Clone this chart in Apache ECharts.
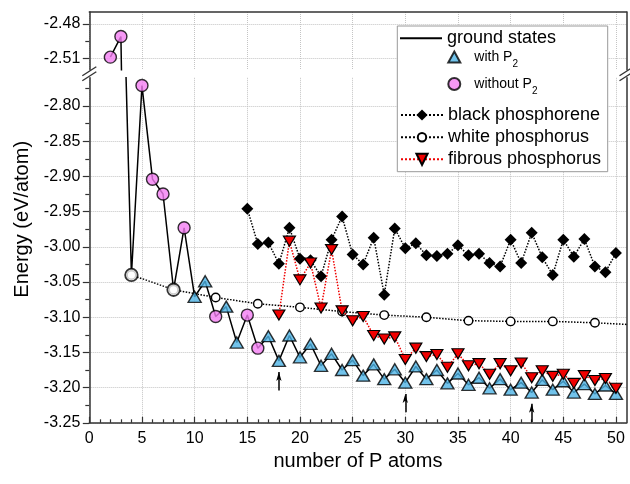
<!DOCTYPE html>
<html>
<head>
<meta charset="utf-8">
<script src="https://cdn.jsdelivr.net/npm/echarts@6/dist/echarts.min.js"></script>
<style>html,body{margin:0;padding:0;background:#fff}#c{width:630px;height:484px}</style>
</head>
<body>
<div id="c"></div>
<script>
// ---------------- data ----------------
const groundN = [2,3,4,5,6,7,8,9,10,11,12,13,14,15,16,17,18,19,20,21,22,23,24,25,26,27,28,29,30,31,32,33,34,35,36,37,38,39,40,41,42,43,44,45,46,47,48,49,50];
const groundE = [-2.509,-2.491,-3.040,-2.771,-2.904,-2.925,-3.061,-2.973,-3.071,-3.049,
  -3.099,-3.085,-3.136,-3.097,-3.144,-3.127,-3.162,-3.126,-3.157,-3.138,
  -3.169,-3.152,-3.175,-3.161,-3.183,-3.167,-3.188,-3.174,-3.193,-3.170,
  -3.188,-3.175,-3.194,-3.180,-3.196,-3.186,-3.201,-3.188,-3.203,-3.193,
  -3.207,-3.189,-3.203,-3.191,-3.207,-3.195,-3.209,-3.197,-3.209];
// T = with P2, C = without P2, W = P4 (white) cluster
const groundType = ['C','C','W','C','C','C','W','C','T','T','C','T','T','C','C',
  'T','T','T','T','T','T','T','T','T','T','T','T','T','T','T','T','T','T','T','T','T','T','T','T','T','T','T','T','T','T','T','T','T','T'];
const blackN = [15,16,17,18,19,20,21,22,23,24,25,26,27,28,29,30,31,32,33,34,35,36,37,38,39,40,41,42,43,44,45,46,47,48,49,50];
const blackE = [-2.946,-2.996,-2.994,-3.024,-2.973,-3.017,-3.019,-3.042,-2.990,-2.957,
  -3.011,-3.025,-2.987,-3.068,-2.974,-3.002,-2.995,-3.012,-3.013,-3.010,
  -2.998,-3.012,-3.010,-3.023,-3.028,-2.990,-3.023,-2.980,-3.015,-3.040,
  -2.990,-3.014,-2.989,-3.028,-3.036,-3.009];
const whiteN = [4,8,12,16,20,24,28,32,36,40,44,48,52];
const whiteE = [-3.040,-3.061,-3.072,-3.081,-3.086,-3.092,-3.097,-3.100,-3.105,-3.106,-3.106,-3.108,-3.111];
const fibN = [18,19,20,21,22,23,24,25,26,27,28,29,30,31,32,33,34,35,36,37,38,39,40,41,42,43,44,45,46,47,48,49,50];
const fibE = [-3.097,-2.992,-3.047,-3.023,-3.087,-3.004,-3.091,-3.105,-3.099,-3.126,
  -3.131,-3.128,-3.160,-3.144,-3.156,-3.153,-3.171,-3.152,-3.169,-3.166,
  -3.181,-3.166,-3.176,-3.165,-3.186,-3.176,-3.184,-3.181,-3.194,-3.183,
  -3.190,-3.187,-3.201];
const arrowAt = [18,30,42];
const xTicks = [0,5,10,15,20,25,30,35,40,45,50];
const yTicksTop = [-2.51,-2.48];
const yTicksBottom = [-3.25,-3.20,-3.15,-3.10,-3.05,-3.00,-2.95,-2.90,-2.85,-2.80];

// ---------------- layout / style ----------------
const FONT = '"Liberation Sans", Arial, Helvetica, sans-serif';
const AX = '#333';
const GRIDC = '#c4c4c4';
const X_MAX = 51;
const TOP_MIN = -2.52, TOP_MAX = -2.4695;
const BOT_MIN = -3.25, BOT_MAX = -2.76;
const G_LEFT = 89.3, G_RIGHT = 3.5;
const TOP_T = 12, TOP_H = 57.7;
const BOT_T = 77.8, BOT_H = 345;

const pairs = (ns, es) => ns.map((n, i) => [n, es[i]]);
const groundPts = pairs(groundN, groundE);
const ofType = t => groundPts.filter((p, i) => groundType[i] === t);
const xMinor = [];
for (let v = 0; v < X_MAX; v++) if (v % 5 !== 0) xMinor.push(v);
const halfway = (ticks, max) => ticks.map((t, i) => +(t + (ticks[1] - ticks[0]) / 2).toFixed(4)).filter(v => v < max);
const yMinorTop = halfway(yTicksTop, TOP_MAX);
const yMinorBottom = halfway(yTicksBottom, BOT_MAX);

const axLine = {show: true, onZero: false, lineStyle: {color: AX, width: 1.5}};
const split = {show: true, lineStyle: {color: GRIDC, type: 'dotted', width: 1}};
const lblY = {fontSize: 16, color: '#000', fontFamily: FONT, margin: 9};

const xAxis = [
  {gridIndex: 0, type: 'value', min: 0, max: X_MAX, position: 'top', axisLine: axLine,
   axisTick: {show: false, customValues: xTicks}, axisLabel: {show: false}, splitLine: split},
  {gridIndex: 1, type: 'value', min: 0, max: X_MAX, position: 'bottom', axisLine: axLine,
   axisTick: {inside: true, length: 6, customValues: xTicks, lineStyle: {color: AX, width: 1.2}},
   axisLabel: {customValues: xTicks, fontSize: 16, color: '#000', fontFamily: FONT, margin: 8},
   splitLine: split,
   name: 'number of P atoms', nameLocation: 'middle', nameGap: 29,
   nameTextStyle: {fontSize: 20, color: '#000', fontFamily: FONT}},
  {gridIndex: 1, type: 'value', min: 0, max: X_MAX, position: 'bottom', axisLine: {show: false, onZero: false},
   axisTick: {inside: true, length: 3.5, customValues: xMinor, lineStyle: {color: AX, width: 1.2}},
   axisLabel: {show: false}, splitLine: {show: false}}
];
const yAxis = [
  {gridIndex: 0, type: 'value', min: TOP_MIN, max: TOP_MAX, position: 'left', axisLine: axLine,
   axisTick: {length: 6.5, customValues: yTicksTop, lineStyle: {color: AX, width: 1.2}},
   axisLabel: Object.assign({customValues: yTicksTop, formatter: v => v.toFixed(2)}, lblY),
   splitLine: split},
  {gridIndex: 0, type: 'value', min: TOP_MIN, max: TOP_MAX, position: 'right', axisLine: axLine,
   axisTick: {show: false}, axisLabel: {show: false}, splitLine: {show: false}},
  {gridIndex: 0, type: 'value', min: TOP_MIN, max: TOP_MAX, position: 'left', axisLine: {show: false, onZero: false},
   axisTick: {length: 4, customValues: yMinorTop, lineStyle: {color: AX, width: 1.2}},
   axisLabel: {show: false}, splitLine: {show: false}},
  {gridIndex: 1, type: 'value', min: BOT_MIN, max: BOT_MAX, position: 'left', axisLine: axLine,
   axisTick: {length: 6.5, customValues: yTicksBottom, lineStyle: {color: AX, width: 1.2}},
   axisLabel: Object.assign({customValues: yTicksBottom, formatter: v => v.toFixed(2)}, lblY),
   splitLine: split,
   name: 'Energy (eV/atom)', nameLocation: 'middle', nameGap: 57,
   nameTextStyle: {fontSize: 20, color: '#000', fontFamily: FONT, padding: [0, 0, 0, 62]}},
  {gridIndex: 1, type: 'value', min: BOT_MIN, max: BOT_MAX, position: 'right', axisLine: axLine,
   axisTick: {show: false}, axisLabel: {show: false}, splitLine: {show: false}},
  {gridIndex: 1, type: 'value', min: BOT_MIN, max: BOT_MAX, position: 'left', axisLine: {show: false, onZero: false},
   axisTick: {length: 4, customValues: yMinorBottom, lineStyle: {color: AX, width: 1.2}},
   axisLabel: {show: false}, splitLine: {show: false}}
];

const PINK = '#f47ef2', BLUE = '#4fb4e6', RED = '#f00000';
const mk = {borderColor: '#000', borderWidth: 1.4};

const groundLine = (xi, yi) => ({
  name: 'ground states', type: 'line', xAxisIndex: xi, yAxisIndex: yi, data: groundPts,
  symbol: 'none', color: '#000', lineStyle: {color: '#000', width: 1.5}, z: 2
});
const pinkScatter = (xi, yi) => ({
  name: 'withoutP2', type: 'scatter', xAxisIndex: xi, yAxisIndex: yi, data: ofType('C'),
  symbol: 'circle', symbolSize: 12, itemStyle: Object.assign({color: PINK}, mk), z: 6
});

const arrowData = arrowAt.map(n => {
  const e = groundE[groundN.indexOf(n)];
  return [{coord: [n, e - 0.042]}, {coord: [n, e - 0.016]}];
});

const series = [
  groundLine(0, 0),
  pinkScatter(0, 0),
  Object.assign(groundLine(1, 3), {
    markLine: {silent: true, animation: false, symbol: ['none', 'arrow'], symbolSize: [4, 9],
      label: {show: false}, lineStyle: {color: '#000', width: 1.5, type: 'solid'}, data: arrowData}
  }),
  {name: 'black phosphorene', type: 'line', xAxisIndex: 1, yAxisIndex: 3, data: pairs(blackN, blackE),
   symbol: 'diamond', symbolSize: 12, showAllSymbol: true, color: '#000',
   itemStyle: {color: '#000', borderWidth: 0}, lineStyle: {color: '#000', width: 1.5, type: 'dotted'}, z: 3},
  {name: 'white phosphorus', type: 'line', xAxisIndex: 1, yAxisIndex: 3, data: pairs(whiteN, whiteE),
   symbol: 'circle', symbolSize: 8.5, showAllSymbol: true, color: '#000',
   itemStyle: {color: '#fff', borderColor: '#000', borderWidth: 1.4},
   lineStyle: {color: '#000', width: 1.5, type: 'dotted'}, z: 3},
  {name: 'withP2', type: 'scatter', xAxisIndex: 1, yAxisIndex: 3, data: ofType('T'),
   symbol: 'triangle', symbolSize: [13, 11], itemStyle: Object.assign({color: BLUE}, mk), z: 5},
  pinkScatter(1, 3),
  {name: 'P4 ground', type: 'scatter', xAxisIndex: 1, yAxisIndex: 3, data: ofType('W'),
   symbol: 'circle', symbolSize: 12.5, itemStyle: {color: '#fff', borderColor: '#000', borderWidth: 1.8}, z: 6},
  {name: 'fibrous phosphorus', type: 'line', xAxisIndex: 1, yAxisIndex: 3, data: pairs(fibN, fibE),
   symbol: 'triangle', symbolRotate: 180, symbolSize: [12, 10], showAllSymbol: true, color: RED,
   itemStyle: {color: RED, borderColor: '#000', borderWidth: 1.2},
   lineStyle: {color: RED, width: 1.5, type: 'dotted'}, z: 7}
];

const legTxt = {fontSize: 18, lineHeight: 18, color: '#000', fontFamily: FONT};
const subRich = {
  t: {fontSize: 14, lineHeight: 24, verticalAlign: 'middle', color: '#000', fontFamily: FONT, padding: [0, 0, 0, 9]},
  s: {fontSize: 10, verticalAlign: 'bottom', color: '#000', fontFamily: FONT}
};
const baseLeg = {orient: 'vertical', padding: 0, selectedMode: false, z: 200};
const legend = [
  Object.assign({}, baseLeg, {data: [{name: 'ground states', icon: 'rect'}], left: 400, top: 29.3,
    itemWidth: 42, itemHeight: 2, textStyle: legTxt}),
  Object.assign({}, baseLeg, {data: ['withP2'], left: 447.3, top: 50, itemWidth: 12, itemHeight: 11,
    formatter: () => '{t|with P}{s|2}', textStyle: {rich: subRich}}),
  Object.assign({}, baseLeg, {data: ['withoutP2'], left: 447.3, top: 77, itemWidth: 12, itemHeight: 12,
    formatter: () => '{t|without P}{s|2}', textStyle: {rich: subRich}}),
  Object.assign({}, baseLeg, {data: ['black phosphorene'], left: 400, top: 106, itemWidth: 42, itemHeight: 14, textStyle: legTxt}),
  Object.assign({}, baseLeg, {data: ['white phosphorus'], left: 400, top: 128.3, itemWidth: 42, itemHeight: 10.5, textStyle: legTxt}),
  Object.assign({}, baseLeg, {data: ['fibrous phosphorus'], left: 400, top: 150.3, itemWidth: 42, itemHeight: 14, textStyle: legTxt})
];

// break marks between the two grids
const brkY = (TOP_T + TOP_H + BOT_T) / 2;
const xL = G_LEFT, xR = 630 - G_RIGHT;
const brk = x => [-2.5, 2.5].map(d => ({
  type: 'line', z: 100, silent: true,
  shape: {x1: x - 7, y1: brkY + d + 4.5, x2: x + 7, y2: brkY + d - 4.5},
  style: {stroke: AX, lineWidth: 1.4}
}));

const option = {
  animation: false,
  backgroundColor: '#fff',
  grid: [
    {left: G_LEFT, right: G_RIGHT, top: TOP_T, height: TOP_H},
    {left: G_LEFT, right: G_RIGHT, top: BOT_T, height: BOT_H}
  ],
  xAxis, yAxis, series, legend,
  graphic: [
    {type: 'rect', z: 100, silent: true, shape: {x: 397.3, y: 26, width: 210.4, height: 145.7},
     style: {fill: '#fff', stroke: '#999', lineWidth: 1}}
  ].concat(brk(xL), brk(xR))
};

const chart = echarts.init(document.getElementById('c'), null, {renderer: 'canvas'});
chart.setOption(option);
</script>
</body>
</html>
